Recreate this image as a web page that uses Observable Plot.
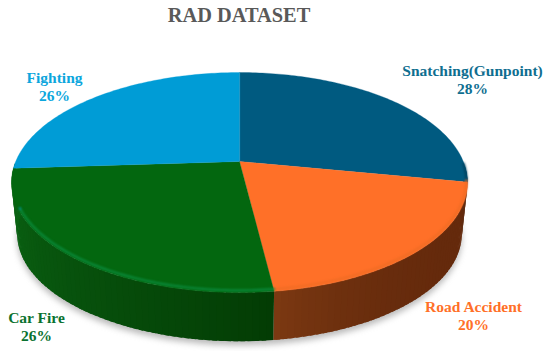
<!DOCTYPE html>
<html>
<head>
<meta charset="utf-8">
<script src="https://cdn.jsdelivr.net/npm/d3@7"></script>
<script src="https://cdn.jsdelivr.net/npm/@observablehq/plot@0.6"></script>
<style>html,body{margin:0;padding:0;background:#fff}svg{display:block}</style>
</head>
<body>
<div id="chart"></div>
<script>
const chartTitle = "RAD DATASET";
const categories = ["Snatching(Gunpoint)", "Road Accident", "Car Fire", "Fighting"];
const percents = [28, 20, 26, 26];
const faceColors = ["#005a80", "#ff7028", "#03670f", "#009cd6"];
const labelColors = ["#0f6e90", "#ff7028", "#0a7230", "#0ca6dd"];
const sideStart = ["#003b55", "#652a0c", "#033c04", "#0a6414"];
const sideEnd = ["#003b55", "#7d3a12", "#0b6514", "#0a6414"];
const sideEase = [1, 4, 0.9, 1];
const rimColors = ["#00405c", "#f06c24", "#0a8a3c", "#009cd6"];
const labelAnchorX = [472, 473, 36, 54];
const labelAnchorY = [80, 316, 327, 87];

// perspective view of the disc
const cx = 239, cy = 161, R = 223.8, S = 106, k = 0.191, wallDrop = 52, wallScale = 0.975;
const project = (deg, scale = 1, drop = 0) => {
  const t = deg * Math.PI / 180, u = Math.sin(t), v = -Math.cos(t), w = 1 - k * v;
  return [cx + scale * R * u / w, cy + drop + scale * S * v / w];
};
const arcDegrees = (a, b, step = 1) => {
  const out = [];
  for (let d = a; d < b; d += step) out.push(d);
  out.push(b);
  return out;
};

let acc = 0;
const slices = categories.map((name, i) => {
  const start = acc / 100 * 360;
  acc += percents[i];
  return {name, i, start, end: acc / 100 * 360};
});

const facePoints = [], wallPoints = [], rimPoints = [], shadowPoints = [];
for (const s of slices) {
  facePoints.push({id: s.name, x: cx, y: cy, color: faceColors[s.i]});
  for (const d of arcDegrees(s.start, s.end)) {
    const [x, y] = project(d);
    facePoints.push({id: s.name, x, y, color: faceColors[s.i]});
  }
  const a = Math.max(s.start, 92), b = Math.min(s.end, 268);
  if (a < b) {
    const ds = arcDegrees(a, b, 1.5);
    for (let j = 0; j < ds.length - 1; j++) {
      const t = Math.pow((ds[j] - a) / Math.max(b - a, 1), sideEase[s.i]);
      const color = d3.interpolateRgb(sideStart[s.i], sideEnd[s.i])(t);
      const id = s.name + j;
      const next = Math.min(ds[j + 1] + 1, s.end);
      const quad = [project(ds[j]), project(next), project(next, wallScale, wallDrop), project(ds[j], wallScale, wallDrop)];
      for (const [x, y] of quad) wallPoints.push({id, x, y, color});
    }
    for (const d of arcDegrees(a, Math.min(b, 245))) {
      const [x, y] = project(d, 0.995, -1.5);
      rimPoints.push({id: s.name, x, y, color: rimColors[s.i]});
    }
  }
}
for (const d of arcDegrees(85, 275)) {
  const [x, y] = project(d, wallScale, wallDrop + 4);
  shadowPoints.push({x, y});
}

const labelRows = slices.flatMap(s => [
  {text: s.name, x: labelAnchorX[s.i], y: labelAnchorY[s.i] - 9, color: labelColors[s.i]},
  {text: percents[s.i] + "%", x: labelAnchorX[s.i], y: labelAnchorY[s.i] + 9, color: labelColors[s.i]}
]);

const polygon = (data, extra = {}) => Plot.line(data, {x: "x", y: "y", z: "id", fill: "color", stroke: "none", curve: "linear-closed", ...extra});

const plot = Plot.plot({
  width: 550, height: 351,
  margin: 0,
  x: {domain: [0, 550], range: [0, 550], axis: null},
  y: {domain: [0, 351], range: [0, 351], axis: null},
  color: {type: "identity"},
  style: {background: "#fff"},
  marks: [
    Plot.line(shadowPoints, {x: "x", y: "y", fill: "#8a8a8a", stroke: "none", curve: "linear-closed", opacity: 0.6, imageFilter: "blur(3px)"}),
    polygon(wallPoints),
    polygon(facePoints, {stroke: "color", strokeWidth: 0.3}),
    Plot.line(rimPoints, {x: "x", y: "y", z: "id", stroke: "color", strokeWidth: 2.2, imageFilter: "blur(1.2px)"}),
    Plot.text([chartTitle], {x: () => 238.5, y: () => 15, text: d => d, fontFamily: "Liberation Serif", fontWeight: "bold", fontSize: 20.4, fill: "#595959"}),
    Plot.text(labelRows, {x: "x", y: "y", text: "text", fill: "color", fontFamily: "Liberation Serif", fontWeight: "bold", fontSize: 15.5, style: "letter-spacing:0.4px"})
  ]
});
document.getElementById("chart").append(plot);
</script>
</body>
</html>
